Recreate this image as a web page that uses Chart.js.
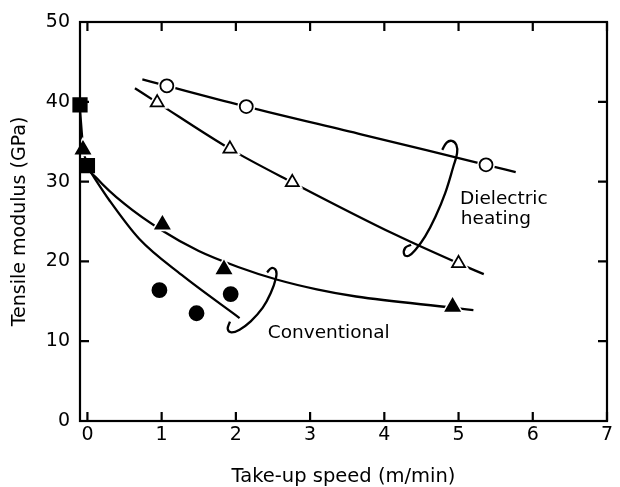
<!DOCTYPE html>
<html><head><meta charset="utf-8">
<script src="https://cdn.jsdelivr.net/npm/chart.js@4.4.1/dist/chart.umd.min.js"></script>
<style>html,body{margin:0;padding:0;background:#fff;overflow:hidden}canvas{display:block}</style>
</head><body><canvas id="c" width="620" height="487"></canvas>
<script>
// ---- tick labels ----
const xTicks = [0, 1, 2, 3, 4, 5, 6, 7];
const yTicks = [0, 10, 20, 30, 40, 50];

// ---- measured points ----
const dielCircX = [1.07, 2.14, 5.37];          // dielectric heating, open circles
const dielCircY = [42.0, 39.4, 32.1];
const dielTriX  = [0.94, 1.92, 2.76, 5.0];     // dielectric heating, open triangles
const dielTriY  = [39.9, 34.1, 29.9, 19.75];
const convTriX  = [-0.06, 1.01, 1.84, 4.92];   // conventional, filled triangles
const convTriY  = [34.0, 24.6, 19.0, 14.3];
const convCircX = [0.97, 1.47, 1.93];          // conventional, filled circles
const convCircY = [16.4, 13.5, 15.9];
const squareX   = [-0.1, 0.0];                 // filled squares
const squareY   = [39.6, 32.0];

// ---- drawn trend curves ----
const fitDielCircX = [0.74, 1.07, 2.14, 3.7, 5.37, 5.77];
const fitDielCircY = [42.8, 42.0, 39.4, 35.9, 32.1, 31.2];
const fitDielTriX  = [0.64, 0.94, 1.92, 2.76, 4.16, 5.0, 5.34];
const fitDielTriY  = [41.7, 39.9, 34.1, 29.9, 23.3, 19.75, 18.4];
const fitConvTriX  = [-0.1, -0.06, 0.0, 0.13, 0.5, 1.0, 1.5, 2.03, 2.56, 3.09, 3.62, 4.92, 5.2];
const fitConvTriY  = [39.0, 34.5, 32.0, 30.4, 27.2, 23.9, 21.3, 19.3, 17.7, 16.5, 15.6, 14.2, 13.9];
const fitConvCircX = [0.0, 0.3, 0.7, 1.27, 2.05];
const fitConvCircY = [31.8, 27.6, 22.8, 18.3, 12.9];

// ---- grouping brackets ----
const braceDielX = [4.78, 4.84, 4.91, 4.97, 4.98, 4.93, 4.82, 4.69, 4.55, 4.42, 4.33, 4.27, 4.28, 4.36];
const braceDielY = [33.98, 34.89, 35.1, 34.6, 33.57, 31.89, 28.56, 25.63, 23.13, 21.46, 20.71, 20.84, 21.68, 22.09];
const braceConvX = [2.42, 2.48, 2.54, 2.54, 2.47, 2.36, 2.20, 2.05, 1.94, 1.89, 1.92];
const braceConvY = [18.62, 19.17, 18.87, 17.92, 16.04, 14.17, 12.49, 11.45, 11.11, 11.54, 12.45];

// ---- annotation texts ----
const noteTexts = ['Dielectric', 'heating', 'Conventional'];
const noteX = [5.02, 5.03, 2.43];
const noteY = [27.2, 24.7, 10.4];

const FONT = "'DejaVu Sans', sans-serif";
Chart.defaults.font.family = FONT;
Chart.defaults.color = '#000';

const pts = (xs, ys) => xs.map((x, i) => ({x, y: ys[i]}));

function curve(xs, ys, mono) {
  return {type: 'line', data: pts(xs, ys), borderColor: '#000', borderWidth: 2.3,
    pointRadius: 0, fill: false, order: 3, clip: false,
    tension: mono ? 0 : 0.4, cubicInterpolationMode: mono ? 'monotone' : 'default'};
}
function markers(xs, ys, style, r, filled, order) {
  return {type: 'scatter', data: pts(xs, ys), pointStyle: style, pointRadius: r,
    pointBackgroundColor: filled ? '#000' : '#fff', pointBorderColor: '#000',
    pointBorderWidth: 1.8, showLine: false, order: order, clip: false};
}
function halo(xs, ys, style, r) {
  return {type: 'scatter', data: pts(xs, ys), pointStyle: style, pointRadius: r,
    pointBackgroundColor: '#fff', pointBorderColor: '#fff',
    pointBorderWidth: 5, showLine: false, order: 2, clip: false};
}

const framePlugin = {
  id: 'frame',
  afterDatasetsDraw(chart) {
    const {ctx, chartArea: a, scales: {x, y}} = chart;
    ctx.save();
    ctx.strokeStyle = '#000';
    ctx.lineWidth = 2.2;
    ctx.strokeRect(a.left, a.top, a.right - a.left, a.bottom - a.top);
    const L = 9;
    ctx.beginPath();
    x.ticks.forEach(t => {
      const px = x.getPixelForValue(t.value);
      ctx.moveTo(px, a.bottom); ctx.lineTo(px, a.bottom - L);
      ctx.moveTo(px, a.top); ctx.lineTo(px, a.top + L);
    });
    y.ticks.forEach(t => {
      const py = y.getPixelForValue(t.value);
      ctx.moveTo(a.left, py); ctx.lineTo(a.left + L, py);
      ctx.moveTo(a.right, py); ctx.lineTo(a.right - L, py);
    });
    ctx.stroke();
    ctx.fillStyle = '#000';
    ctx.font = '18.5px ' + FONT;
    ctx.textAlign = 'left';
    ctx.textBaseline = 'alphabetic';
    noteTexts.forEach((t, i) => {
      ctx.fillText(t, x.getPixelForValue(noteX[i]), y.getPixelForValue(noteY[i]));
    });
    ctx.restore();
  }
};

new Chart(document.getElementById('c'), {
  data: {
    datasets: [
      curve(fitDielCircX, fitDielCircY, true),
      curve(fitDielTriX, fitDielTriY, true),
      curve(fitConvTriX, fitConvTriY, true),
      curve(fitConvCircX, fitConvCircY, true),
      curve(braceDielX, braceDielY, false),
      curve(braceConvX, braceConvY, false),
      halo(dielCircX, dielCircY, 'circle', 6.5),
      halo(dielTriX, dielTriY, 'triangle', 7.5),
      halo(convTriX, convTriY, 'triangle', 8),
      markers(dielCircX, dielCircY, 'circle', 6.5, false, 1),
      markers(dielTriX, dielTriY, 'triangle', 7.5, false, 1),
      markers(convTriX, convTriY, 'triangle', 8, true, 1),
      markers(convCircX, convCircY, 'circle', 7, true, 1),
      markers(squareX, squareY, 'rect', 9.5, true, 0)
    ]
  },
  options: {
    responsive: false,
    animation: false,
    events: [],
    layout: {padding: {top: 22, right: 6, left: 0, bottom: 0}},
    plugins: {legend: {display: false}, tooltip: {enabled: false}},
    scales: {
      x: {
        type: 'linear', min: -0.1, max: 7,
        afterBuildTicks: s => { s.ticks = xTicks.map(v => ({value: v})); },
        afterFit: s => { s.height = 66; s.paddingLeft = 0; s.paddingRight = 0; },
        grid: {display: false, drawTicks: false},
        border: {display: false},
        ticks: {padding: 3, font: {size: 19}, color: '#000', maxRotation: 0, autoSkip: false,
          callback: v => String(v)},
        title: {display: true, text: 'Take-up speed (m/min)', font: {size: 19.5}, color: '#000',
          padding: {top: 0, bottom: -2}}
      },
      y: {
        type: 'linear', min: 0, max: 50,
        afterBuildTicks: s => { s.ticks = yTicks.map(v => ({value: v})); },
        afterFit: s => { s.width = 80; s.paddingTop = 0; s.paddingBottom = 0; },
        grid: {display: false, drawTicks: false},
        border: {display: false},
        ticks: {padding: 10, font: {size: 19}, color: '#000', autoSkip: false,
          callback: v => String(v)},
        title: {display: true, text: 'Tensile modulus (GPa)', font: {size: 19}, color: '#000',
          padding: {top: 9, bottom: 0}}
      }
    }
  },
  plugins: [framePlugin]
});
</script>
</body></html>
